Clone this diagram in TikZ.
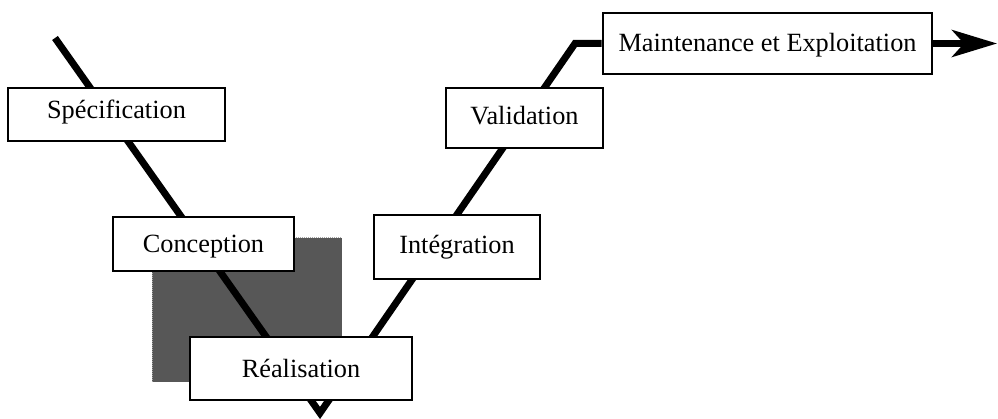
\documentclass[tikz,border=0pt]{standalone}
\usepackage{fontspec}
\setmainfont{Liberation Serif}
\usetikzlibrary{arrows.meta,backgrounds}
\begin{document}
\begin{tikzpicture}[x=1pt,y=-1pt,
  phase/.style={draw=black, line width=2.8pt, fill=white, inner sep=0pt,
    text height=17pt, text depth=0pt, font=\fontsize{26.3}{30}\selectfont},
  flow/.style={line width=7pt, line join=miter, line cap=butt},
  shade/.style={fill=black!66},
  shadeedge/.style={draw=black!35, densely dotted, line width=1pt}]
\useasboundingbox (0,0) rectangle (998,419);

% phases of the V cycle (a larger text depth lifts the label inside its box)
\node[phase, minimum width=217pt, minimum height=53pt, text depth=8pt] (spec) at (116.5,114.5) {Spécification};
\node[phase, minimum width=181pt, minimum height=54pt] (conc)  at (203.5,244)   {Conception};
\node[phase, minimum width=222pt, minimum height=63pt] (real)  at (301,368.5)   {Réalisation};
\node[phase, minimum width=166pt, minimum height=64pt, text depth=4pt] (integ) at (457,247) {Intégration};
\node[phase, minimum width=157pt, minimum height=60pt, text depth=4pt] (valid) at (524.5,118) {Validation};
\node[phase, minimum width=329pt, minimum height=61pt] (maint) at (767.5,43.5)  {Maintenance et Exploitation};

% the V path behind the boxes
\coordinate (start) at (55,38);
\coordinate (tip)   at (320,413);
\coordinate (bend)  at (575,43.5);
\coordinate (out)   at (997,43.5);
\begin{scope}[on background layer]
  \fill[shade] (152,238) rectangle (342,382);
  \draw[shadeedge] (152,382) -- (152,238) -- (342,238);
  \draw[flow] (start) -- (tip) -- (bend) -- (maint.west);
\end{scope}

% output arrow
\draw[line width=6.5pt, -{Stealth[length=45pt,width=27pt,inset=12pt]}] (maint.east) -- (out);
\end{tikzpicture}
\end{document}
